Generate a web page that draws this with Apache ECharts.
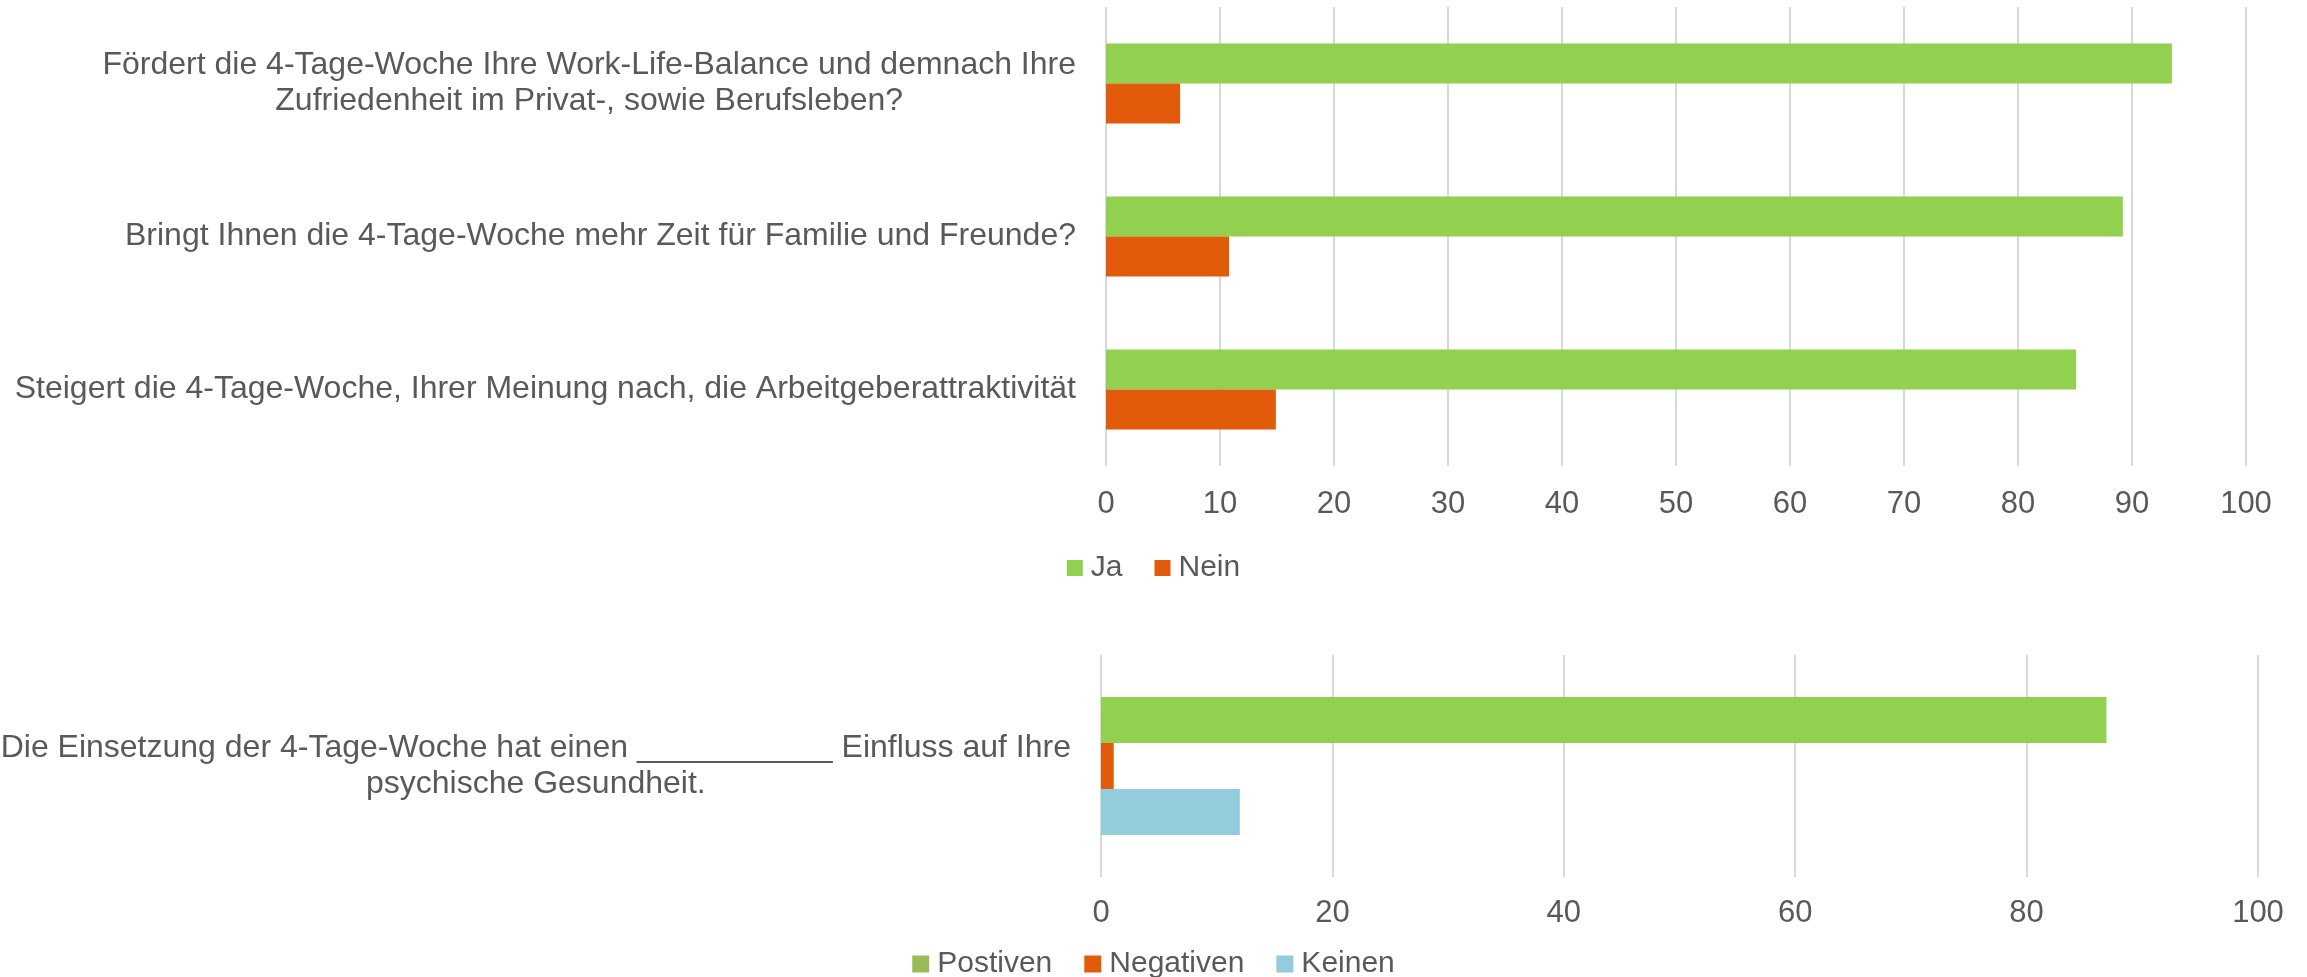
<!DOCTYPE html>
<html lang="de">
<head>
    <meta charset="UTF-8">
    <title>4-Tage-Woche Umfrage</title>
    <script src="https://cdn.jsdelivr.net/npm/echarts@6.0.0/dist/echarts.min.js"></script>
    <style>
        html, body { margin: 0; padding: 0; background: #fff; }
        #chartContainer { width: 2307px; height: 977px; }
    </style>
</head>
<body>
    <div id="chartContainer"></div>

    <script>
        // Obere Grafik: Ja / Nein
        const topCategories = [
            'Fördert die 4-Tage-Woche Ihre Work-Life-Balance und demnach Ihre\nZufriedenheit im Privat-, sowie Berufsleben?',
            'Bringt Ihnen die 4-Tage-Woche mehr Zeit für Familie und Freunde?',
            'Steigert die 4-Tage-Woche, Ihrer Meinung nach, die Arbeitgeberattraktivität'
        ];
        const jaValues = [93.5, 89.2, 85.1];
        const neinValues = [6.5, 10.8, 14.9];

        // Untere Grafik: Einfluss auf psychische Gesundheit
        const bottomCategories = [
            'Die Einsetzung der 4-Tage-Woche hat einen ___________ Einfluss auf Ihre\npsychische Gesundheit.'
        ];
        const postivenValues = [86.9];
        const negativenValues = [1.1];
        const keinenValues = [12.0];

        const textColor = '#595959';
        const fontFamily = '"Liberation Sans", Arial, sans-serif';
        const green = '#92D050';
        const orange = '#E25B0B';
        const blue = '#93CDDD';

        // mehrzeilige Beschriftung zentriert, Block rechtsbündig
        function centeredLabel(value) {
            return value.split('\n').map(line => '{c|' + line + '}').join('\n');
        }

        const categoryAxisBase = {
            type: 'category',
            inverse: true,
            axisLine: { show: false },
            axisTick: { show: false },
            axisLabel: {
                margin: 30,
                formatter: centeredLabel,
                rich: {
                    c: {
                        align: 'center',
                        fontSize: 32,
                        lineHeight: 36,
                        color: textColor,
                        fontFamily: fontFamily
                    }
                }
            }
        };

        const valueAxisBase = {
            type: 'value',
            min: 0,
            max: 100,
            axisLine: { show: false },
            axisTick: { show: false },
            splitLine: {
                show: true,
                lineStyle: { color: '#D9D9D9', width: 2 }
            },
            axisLabel: {
                color: textColor,
                fontSize: 31,
                fontFamily: fontFamily
            }
        };

        const chart = echarts.init(document.getElementById('chartContainer'));

        const option = {
            backgroundColor: '#ffffff',
            animation: false,
            textStyle: { fontFamily: fontFamily },
            grid: [
                { left: 1106, right: 61, top: 7, height: 459, outerBoundsMode: 'none' },
                { left: 1101, right: 49, top: 655, height: 222, outerBoundsMode: 'none' }
            ],
            xAxis: [
                Object.assign({}, valueAxisBase, {
                    gridIndex: 0,
                    interval: 10,
                    axisLabel: Object.assign({}, valueAxisBase.axisLabel, { margin: 23 })
                }),
                Object.assign({}, valueAxisBase, {
                    gridIndex: 1,
                    interval: 20,
                    axisLabel: Object.assign({}, valueAxisBase.axisLabel, { margin: 21 })
                })
            ],
            yAxis: [
                Object.assign({}, categoryAxisBase, { gridIndex: 0, data: topCategories }),
                Object.assign({}, categoryAxisBase, { gridIndex: 1, data: bottomCategories })
            ],
            legend: [
                {
                    left: 'center',
                    top: 548,
                    icon: 'rect',
                    itemWidth: 16,
                    itemHeight: 16,
                    itemGap: 32,
                    textStyle: { color: textColor, fontSize: 30, fontFamily: fontFamily, padding: [0, 0, 0, 3] },
                    data: ['Ja', 'Nein']
                },
                {
                    left: 'center',
                    top: 944,
                    icon: 'rect',
                    itemWidth: 17,
                    itemHeight: 17,
                    itemGap: 32,
                    textStyle: { color: textColor, fontSize: 30, fontFamily: fontFamily, padding: [0, 0, 0, 3] },
                    data: [
                        { name: 'Postiven', itemStyle: { color: '#9BBB59' } },
                        'Negativen',
                        'Keinen'
                    ]
                }
            ],
            series: [
                {
                    name: 'Ja',
                    type: 'bar',
                    xAxisIndex: 0,
                    yAxisIndex: 0,
                    data: jaValues,
                    barWidth: 40,
                    barGap: '0%',
                    itemStyle: { color: green }
                },
                {
                    name: 'Nein',
                    type: 'bar',
                    xAxisIndex: 0,
                    yAxisIndex: 0,
                    data: neinValues,
                    barWidth: 40,
                    barGap: '0%',
                    itemStyle: { color: orange }
                },
                {
                    name: 'Postiven',
                    type: 'bar',
                    xAxisIndex: 1,
                    yAxisIndex: 1,
                    data: postivenValues,
                    barWidth: 46,
                    barGap: '0%',
                    itemStyle: { color: green }
                },
                {
                    name: 'Negativen',
                    type: 'bar',
                    xAxisIndex: 1,
                    yAxisIndex: 1,
                    data: negativenValues,
                    barWidth: 46,
                    barGap: '0%',
                    itemStyle: { color: orange }
                },
                {
                    name: 'Keinen',
                    type: 'bar',
                    xAxisIndex: 1,
                    yAxisIndex: 1,
                    data: keinenValues,
                    barWidth: 46,
                    barGap: '0%',
                    itemStyle: { color: blue }
                }
            ]
        };

        chart.setOption(option);

        window.addEventListener('resize', () => {
            chart.resize();
        });
    </script>
</body>
</html>
